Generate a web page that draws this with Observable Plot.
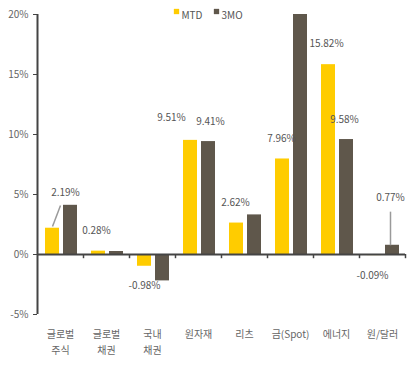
<!DOCTYPE html>
<html><head><meta charset="utf-8">
<script src="https://cdn.jsdelivr.net/npm/d3@7"></script>
<script src="https://cdn.jsdelivr.net/npm/@observablehq/plot@0.6"></script>
<style>body{margin:0;background:#fff;} </style>
</head><body><div id="chart"></div>
<script>
const categories = ["글로벌\n주식","글로벌\n채권","국내\n채권","원자재","리츠","금(Spot)","에너지","원/달러"];
const series = ["MTD","3MO"];
const mtd = [2.19,0.28,-0.98,9.51,2.62,7.96,15.82,-0.09];
const mo3 = [4.1,0.25,-2.2,9.41,3.3,20.0,9.58,0.77];
const yTicks = [-5,0,5,10,15,20];
// labelled bars: [category index, series]
const labelled = [[0,"MTD"],[1,"MTD"],[2,"MTD"],[3,"MTD"],[3,"3MO"],[4,"MTD"],[5,"MTD"],[6,"MTD"],[6,"3MO"],[7,"3MO"],[7,"MTD"]];

// styling / layout (not data)
const colors = ["#FFCC00","#5F574B"];
const slot = {MTD:[8/46,22/46], "3MO":[26/46,40/46]};
const labelOffset = [[13,-35],[-2,-20],[0,20],[-19,-23],[2,-20],[-1,-20],[-1,-20],[-2,-21],[-2,-20],[-2,-47],[-2,20]];
const legendDx = {MTD: 139, "3MO": 179};

const values = {MTD: mtd, "3MO": mo3};
const data = categories.flatMap((c,i)=>series.map(s=>({i,c,s,v:values[s][i]})));
const mid = (d)=> d.i + (slot[d.s][0]+slot[d.s][1])/2;
const labels = labelled.map(([i,s])=>({i,s,v:values[s][i]}));
const leaders = [
  {x1: 0 + (slot.MTD[0]+slot.MTD[1])/2, y1: mtd[0]+0.15, x2: 0.5, y2: mtd[0]+1.9},
  {x1: 7 + (slot["3MO"][0]+slot["3MO"][1])/2 - 2/46, y1: mo3[7], x2: 7 + (slot["3MO"][0]+slot["3MO"][1])/2 - 2/46, y2: mo3[7]+2.8}
];

const font = "'Noto Sans CJK KR', 'Noto Sans', sans-serif";
const chart = Plot.plot({
  width: 415, height: 365,
  marginLeft: 37, marginRight: 10, marginTop: 14, marginBottom: 51,
  style: {fontFamily: font, fontSize: "10px", color: "#555", background: "#fff"},
  x: {domain: [0, categories.length], axis: null},
  y: {domain: [-5, 20], axis: null},
  color: {domain: series, range: colors},
  marks: [
    Plot.rectY(data, {x1: d=>d.i+slot[d.s][0], x2: d=>d.i+slot[d.s][1], y1: 0, y2: "v", fill: "s"}),
    Plot.ruleY([0], {stroke: "#444", strokeWidth: 2}),
    Plot.ruleX(d3.range(1, categories.length+1), {x: d=>d, y1: 0, y2: -0.35, stroke: "#444", strokeWidth: 1.5}),
    Plot.ruleX([0], {stroke: "#444", strokeWidth: 2}),
    Plot.axisY({ticks: yTicks, tickFormat: d=>d+"%", tickSize: 4, tickPadding: 5, stroke: "#444", fill: "#666", fontSize: 10}),
    Plot.text(categories.map((c,i)=>({c,i})), {x: d=>d.i+0.5, text: "c", frameAnchor: "bottom", dy: 12, lineAnchor: "top", lineHeight: 1.6, fill: "#666", fontSize: 10}),
    Plot.link(leaders, {x1:"x1", y1:"y1", x2:"x2", y2:"y2", stroke: "#9a9a9a", strokeWidth: 1.5}),
    ...labels.map((d,k)=>Plot.text([d], {x: mid, y: "v", dx: labelOffset[k][0], dy: labelOffset[k][1], text: d=>d.v.toFixed(2)+"%", fill: "#555", fontSize: 10})),
    // legend
    ...series.map(s=>Plot.dot([s], {frameAnchor: "top-left", dx: legendDx[s], dy: -3, symbol: "square", r: 3, fill: d=>d, stroke: null})),
    ...series.map(s=>Plot.text([s], {frameAnchor: "top-left", dx: legendDx[s]+5, dy: -3, text: d=>d, textAnchor: "start", fill: "#555", fontSize: 10}))
  ]
});
document.getElementById("chart").append(chart);
</script></body></html>
